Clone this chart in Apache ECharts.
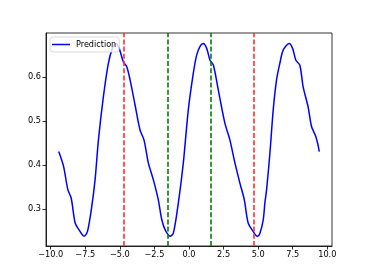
<!DOCTYPE html>
<html><head><meta charset="utf-8">
<script src="https://cdn.jsdelivr.net/npm/echarts@6/dist/echarts.min.js"></script>
<style>html,body{margin:0;padding:0;background:#fff}#c{width:369px;height:277px}</style>
</head><body><div id="c"></div>
<script>
const xValues = [-9.42,-9.07,-8.76,-8.52,-8.23,-7.96,-7.58,-7.34,-7.03,-6.79,-6.55,-6.19,-5.83,-5.54,-5.27,-5.05,-4.74,-4.50,-4.26,-3.90,-3.54,-3.25,-2.94,-2.58,-2.22,-1.97,-1.73,-1.37,-1.13,-0.77,-0.41,-0.05,0.31,0.55,0.79,1.03,1.28,1.52,1.76,2.12,2.60,2.96,3.32,3.68,4.00,4.28,4.64,4.93,5.13,5.37,5.49,5.61,5.85,6.09,6.33,6.57,6.81,7.24,7.49,7.73,8.01,8.25,8.61,8.86,9.17,9.42];
const prediction = [0.431,0.397,0.344,0.325,0.268,0.253,0.238,0.249,0.306,0.367,0.457,0.556,0.632,0.666,0.677,0.666,0.635,0.624,0.594,0.537,0.480,0.457,0.405,0.367,0.321,0.276,0.253,0.238,0.245,0.314,0.405,0.526,0.609,0.650,0.670,0.677,0.666,0.639,0.628,0.571,0.495,0.457,0.405,0.359,0.321,0.268,0.249,0.238,0.245,0.276,0.315,0.344,0.427,0.526,0.594,0.632,0.662,0.677,0.666,0.639,0.628,0.579,0.533,0.488,0.465,0.431];
const redLines = [-4.712, 4.712];
const greenLines = [-1.571, 1.571];
const xTicks = [-10, -7.5, -5, -2.5, 0, 2.5, 5, 7.5, 10];
const yTicks = [0.3, 0.4, 0.5, 0.6];
const seriesName = 'Prediction';

const fmtX = v => (v < 0 ? '\u2212' : '') + Math.abs(v).toFixed(1);
const fmtY = v => v.toFixed(1);
const lineData = xValues.map((x, i) => [x, prediction[i]]);
const ml = [];
redLines.forEach(x => ml.push({xAxis: x, lineStyle: {color: '#ff3030', type: [5, 2.2], width: 1.6}}));
greenLines.forEach(x => ml.push({xAxis: x, lineStyle: {color: '#008000', type: [5, 2.2], width: 1.6}}));

const chart = echarts.init(document.getElementById('c'), null, {renderer: 'canvas'});
chart.setOption({
  animation: false,
  backgroundColor: '#fff',
  grid: {left: 46, right: 37, top: 33, bottom: 31, show: true, borderColor: '#000', borderWidth: 0.8, backgroundColor: 'transparent'},
  legend: {
    left: 50, top: 37, data: [seriesName],
    icon: 'rect', itemWidth: 18, itemHeight: 1.5, itemGap: 4,
    padding: [3, 3, 3, 2],
    borderColor: '#d0d0d0', borderWidth: 0.8, borderRadius: 3,
    backgroundColor: 'rgba(255,255,255,0.8)',
    textStyle: {fontFamily: 'DejaVu Sans', fontSize: 8.1, color: '#000', lineHeight: 9, padding: [0,0,0,1]}
  },
  xAxis: {
    type: 'value', min: -10.34, max: 10.34,
    axisLine: {show: true, onZero: false, lineStyle: {color: '#000', width: 0.8}},
    axisTick: {show: true, length: 3.5, lineStyle: {color: '#000', width: 0.8}, customValues: xTicks},
    axisLabel: {fontFamily: 'DejaVu Sans', fontSize: 8.2, color: '#000', margin: 5, customValues: xTicks, formatter: fmtX},
    splitLine: {show: false}
  },
  yAxis: {
    type: 'value', min: 0.2157, max: 0.701,
    axisLine: {show: true, onZero: false, lineStyle: {color: '#000', width: 0.8}},
    axisTick: {show: true, length: 3.5, lineStyle: {color: '#000', width: 0.8}, customValues: yTicks},
    axisLabel: {fontFamily: 'DejaVu Sans', fontSize: 8.2, color: '#000', margin: 5, customValues: yTicks, formatter: fmtY},
    splitLine: {show: false}
  },
  series: [{
    name: seriesName, type: 'line', data: lineData,
    showSymbol: false, symbol: 'none', smooth: 0.3,
    lineStyle: {color: '#0000ff', width: 1.5},
    itemStyle: {color: '#0000ff'},
    markLine: {silent: true, symbol: 'none', label: {show: false}, animation: false, data: ml}
  }]
});
</script></body></html>
